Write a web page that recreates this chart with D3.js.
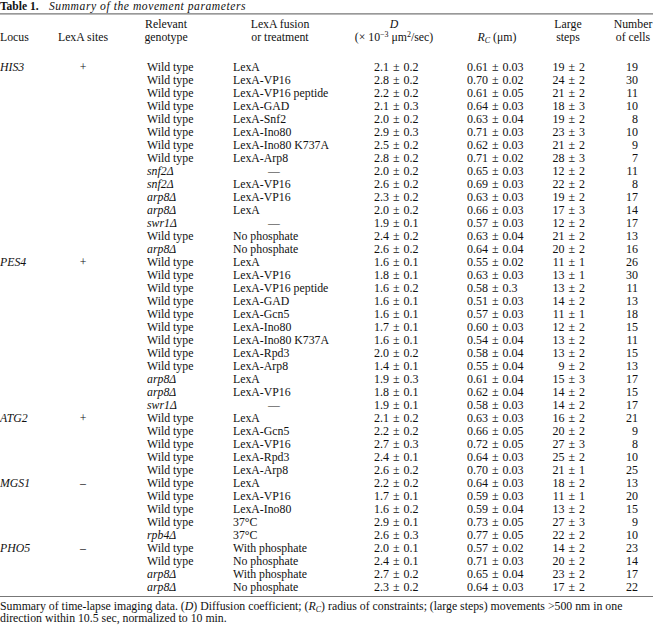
<!DOCTYPE html>
<html>
<head>
<meta charset="utf-8">
<script src="https://cdn.jsdelivr.net/npm/d3@7"></script>
<style>
  body { margin: 0; background: #fff; }
  svg text { font-family: "Liberation Serif", "Times New Roman", serif; fill: #111; }
</style>
</head>
<body>
<svg id="table" width="653" height="625"></svg>
<script>
// --- Data ---
const loci = ["HIS3", "", "", "", "", "", "", "", "", "", "", "", "", "", "",
  "PES4", "", "", "", "", "", "", "", "", "", "", "",
  "ATG2", "", "", "", "",
  "MGS1", "", "", "", "",
  "PHO5", "", "", ""];
const lexaSites = ["+", "", "", "", "", "", "", "", "", "", "", "", "", "", "",
  "+", "", "", "", "", "", "", "", "", "", "", "",
  "+", "", "", "", "",
  "–", "", "", "", "",
  "–", "", "", ""];
const genotypes = [
  "Wild type", "Wild type", "Wild type", "Wild type", "Wild type", "Wild type", "Wild type", "Wild type",
  "snf2Δ", "snf2Δ", "arp8Δ", "arp8Δ", "swr1Δ", "Wild type", "arp8Δ",
  "Wild type", "Wild type", "Wild type", "Wild type", "Wild type", "Wild type", "Wild type", "Wild type", "Wild type",
  "arp8Δ", "arp8Δ", "swr1Δ",
  "Wild type", "Wild type", "Wild type", "Wild type", "Wild type",
  "Wild type", "Wild type", "Wild type", "Wild type", "rpb4Δ",
  "Wild type", "Wild type", "arp8Δ", "arp8Δ"];
const fusions = [
  "LexA", "LexA-VP16", "LexA-VP16 peptide", "LexA-GAD", "LexA-Snf2", "LexA-Ino80", "LexA-Ino80 K737A", "LexA-Arp8",
  "—", "LexA-VP16", "LexA-VP16", "LexA", "—", "No phosphate", "No phosphate",
  "LexA", "LexA-VP16", "LexA-VP16 peptide", "LexA-GAD", "LexA-Gcn5", "LexA-Ino80", "LexA-Ino80 K737A", "LexA-Rpd3", "LexA-Arp8",
  "LexA", "LexA-VP16", "—",
  "LexA", "LexA-Gcn5", "LexA-VP16", "LexA-Rpd3", "LexA-Arp8",
  "LexA", "LexA-VP16", "LexA-Ino80", "37°C", "37°C",
  "With phosphate", "No phosphate", "With phosphate", "No phosphate"];
const dValues = ["2.1 ± 0.2", "2.8 ± 0.2", "2.2 ± 0.2", "2.1 ± 0.3", "2.0 ± 0.2", "2.9 ± 0.3", "2.5 ± 0.2", "2.8 ± 0.2",
  "2.0 ± 0.2", "2.6 ± 0.2", "2.3 ± 0.2", "2.0 ± 0.2", "1.9 ± 0.1", "2.4 ± 0.2", "2.6 ± 0.2",
  "1.6 ± 0.1", "1.8 ± 0.1", "1.6 ± 0.2", "1.6 ± 0.1", "1.6 ± 0.1", "1.7 ± 0.1", "1.6 ± 0.1", "2.0 ± 0.2", "1.4 ± 0.1",
  "1.9 ± 0.3", "1.8 ± 0.1", "1.9 ± 0.1",
  "2.1 ± 0.2", "2.2 ± 0.2", "2.7 ± 0.3", "2.4 ± 0.1", "2.6 ± 0.2",
  "2.2 ± 0.2", "1.7 ± 0.1", "1.6 ± 0.2", "2.9 ± 0.1", "2.6 ± 0.3",
  "2.0 ± 0.1", "2.4 ± 0.1", "2.7 ± 0.2", "2.3 ± 0.2"];
const rcValues = ["0.61 ± 0.03", "0.70 ± 0.02", "0.61 ± 0.05", "0.64 ± 0.03", "0.63 ± 0.04", "0.71 ± 0.03", "0.62 ± 0.03", "0.71 ± 0.02",
  "0.65 ± 0.03", "0.69 ± 0.03", "0.63 ± 0.03", "0.66 ± 0.03", "0.57 ± 0.03", "0.63 ± 0.04", "0.64 ± 0.04",
  "0.55 ± 0.02", "0.63 ± 0.03", "0.58 ± 0.3", "0.51 ± 0.03", "0.57 ± 0.03", "0.60 ± 0.03", "0.54 ± 0.04", "0.58 ± 0.04", "0.55 ± 0.04",
  "0.61 ± 0.04", "0.62 ± 0.04", "0.58 ± 0.03",
  "0.63 ± 0.03", "0.66 ± 0.05", "0.72 ± 0.05", "0.64 ± 0.03", "0.70 ± 0.03",
  "0.64 ± 0.03", "0.59 ± 0.03", "0.59 ± 0.04", "0.73 ± 0.05", "0.77 ± 0.05",
  "0.57 ± 0.02", "0.71 ± 0.03", "0.65 ± 0.04", "0.64 ± 0.03"];
const largeSteps = ["19 ± 2", "24 ± 2", "21 ± 2", "18 ± 3", "19 ± 2", "23 ± 3", "21 ± 2", "28 ± 3",
  "12 ± 2", "22 ± 2", "19 ± 2", "17 ± 3", "12 ± 2", "21 ± 2", "20 ± 2",
  "11 ± 1", "13 ± 1", "13 ± 2", "14 ± 2", "11 ± 1", "12 ± 2", "13 ± 2", "13 ± 2", "9 ± 2",
  "15 ± 3", "14 ± 2", "14 ± 2",
  "16 ± 2", "20 ± 2", "27 ± 3", "25 ± 2", "21 ± 1",
  "18 ± 2", "11 ± 1", "13 ± 2", "27 ± 3", "22 ± 2",
  "14 ± 2", "20 ± 2", "23 ± 2", "17 ± 2"];
const cellCounts = [19, 30, 11, 10, 8, 10, 9, 7, 11, 8, 17, 14, 17, 13, 16,
  26, 30, 11, 13, 18, 15, 11, 15, 13, 17, 15, 17,
  21, 9, 8, 10, 25,
  13, 20, 15, 9, 10,
  23, 14, 17, 22];

const rows = genotypes.map((g, i) => ({
  i, locus: loci[i], sites: lexaSites[i], genotype: g, fusion: fusions[i],
  d: dValues[i], rc: rcValues[i], steps: largeSteps[i], cells: cellCounts[i]
}));

// --- Layout ---
const svg = d3.select("#table");
const width = +svg.attr("width");
const fontSize = 11.8;
const numSize = 12;

// row positions via a point scale (row centers)
const y = d3.scalePoint()
  .domain(d3.range(rows.length))
  .range([67, 587]);
const base = i => y(i) + 4;

// column anchors
const col = {
  locus: 0, sites: 83, genotype: 147, fusion: 233,
  dStart: 374, rcStart: 467, stepsEnd: 585, cellsEnd: 638
};

// --- Title ---
const title = svg.append("text")
  .attr("x", 0).attr("y", 10);
title.append("tspan").attr("font-weight", "bold").attr("font-size", 11.5).text("Table 1.");
title.append("tspan").attr("x", 49).attr("font-style", "italic")
  .attr("font-size", 11.6).attr("letter-spacing", 0.55)
  .text("Summary of the movement parameters");

// --- Rules ---
const rule = yy => svg.append("line")
  .attr("x1", 0).attr("x2", width)
  .attr("y1", yy).attr("y2", yy)
  .attr("stroke", "#777").attr("stroke-width", 1.2);
rule(13.8);
rule(596.5);

// --- Header ---
const header = svg.append("g").attr("font-size", fontSize);
const h1 = 28, h2 = 40.5;
function htext(x, yy, txt, anchor = "middle") {
  return header.append("text").attr("x", x).attr("y", yy)
    .attr("text-anchor", anchor).text(txt);
}
htext(0, h2, "Locus", "start");
htext(83, h2, "LexA sites");
htext(166, h1, "Relevant");
htext(166, h2, "genotype");
htext(280, h1, "LexA fusion");
htext(280, h2, "or treatment");
htext(394, h1, "D").attr("font-style", "italic");
const dUnit = header.append("text").attr("x", 394).attr("y", h2).attr("text-anchor", "middle");
dUnit.append("tspan").text("(× 10");
dUnit.append("tspan").attr("dy", -4).attr("font-size", 8).text("−3");
dUnit.append("tspan").attr("dy", 4).text(" μm");
dUnit.append("tspan").attr("dy", -4).attr("font-size", 8).text("2");
dUnit.append("tspan").attr("dy", 4).text("/sec)");
const rcHead = header.append("text").attr("x", 497).attr("y", h2).attr("text-anchor", "middle");
rcHead.append("tspan").attr("font-style", "italic").text("R");
rcHead.append("tspan").attr("dy", 2).attr("font-size", 8).attr("font-style", "italic").text("C");
rcHead.append("tspan").attr("dy", -2).text(" (μm)");
htext(568, h1, "Large");
htext(568, h2, "steps");
htext(633, h1, "Number");
htext(633, h2, "of cells");

// --- Body ---
const body = svg.append("g").attr("font-size", fontSize);
const nums = svg.append("g").attr("font-size", numSize).attr("word-spacing", 1);
const italicGeno = g => g !== "Wild type";

body.selectAll(".locus").data(rows.filter(d => d.locus)).join("text")
  .attr("class", "locus")
  .attr("x", col.locus).attr("y", d => base(d.i))
  .attr("font-style", "italic")
  .text(d => d.locus);

body.selectAll(".sites").data(rows.filter(d => d.sites)).join("text")
  .attr("class", "sites")
  .attr("x", col.sites).attr("y", d => base(d.i))
  .attr("text-anchor", "middle")
  .text(d => d.sites);

body.selectAll(".geno").data(rows).join("text")
  .attr("class", "geno")
  .attr("x", col.genotype).attr("y", d => base(d.i))
  .attr("font-style", d => italicGeno(d.genotype) ? "italic" : "normal")
  .text(d => d.genotype);

body.selectAll(".fusion").data(rows).join("text")
  .attr("class", "fusion")
  .attr("x", d => d.fusion === "—" ? 274 : col.fusion)
  .attr("text-anchor", d => d.fusion === "—" ? "middle" : "start")
  .attr("y", d => base(d.i))
  .text(d => d.fusion);

nums.selectAll(".dval").data(rows).join("text")
  .attr("class", "dval")
  .attr("x", col.dStart).attr("y", d => base(d.i))
  .text(d => d.d);

nums.selectAll(".rcval").data(rows).join("text")
  .attr("class", "rcval")
  .attr("x", col.rcStart).attr("y", d => base(d.i))
  .text(d => d.rc);

nums.selectAll(".steps").data(rows).join("text")
  .attr("class", "steps")
  .attr("x", col.stepsEnd).attr("y", d => base(d.i))
  .attr("text-anchor", "end")
  .text(d => d.steps);

nums.selectAll(".cells").data(rows).join("text")
  .attr("class", "cells")
  .attr("x", col.cellsEnd).attr("y", d => base(d.i))
  .attr("text-anchor", "end")
  .text(d => d.cells);

// --- Caption ---
const cap = svg.append("g").attr("font-size", 11.8);
const c1 = cap.append("text").attr("x", 0).attr("y", 610);
c1.append("tspan").text("Summary of time-lapse imaging data. (");
c1.append("tspan").attr("font-style", "italic").text("D");
c1.append("tspan").text(") Diffusion coefficient; (");
c1.append("tspan").attr("font-style", "italic").text("R");
c1.append("tspan").attr("font-style", "italic").attr("font-size", 8).attr("dy", 2).text("C");
c1.append("tspan").attr("dy", -2).text(") radius of constraints; (large steps) movements >500 nm in one");
cap.append("text").attr("x", 0).attr("y", 622)
  .text("direction within 10.5 sec, normalized to 10 min.");
</script>
</body>
</html>
